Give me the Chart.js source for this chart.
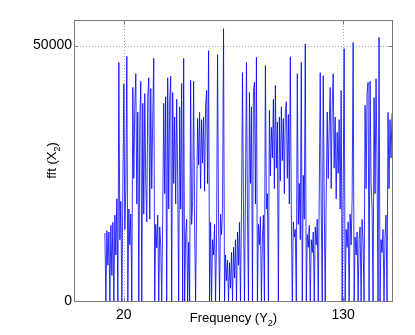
<!DOCTYPE html>
<html>
<head>
<meta charset="utf-8">
<script src="https://cdn.jsdelivr.net/npm/chart.js@4.4.0/dist/chart.umd.min.js"></script>
<style>
  html, body { margin: 0; padding: 0; background: #fff; }
  #wrap { width: 415px; height: 335px; }
</style>
</head>
<body>
<div id="wrap"><canvas id="fftChart" width="415" height="335"></canvas></div>
<script>
// frequency axis: first sample and spacing
const freqStart = 10.5;
const freqStep = 0.5;

// fft magnitude, one sample per pixel column
const fftValues = [
  13300, 0, 13800, 7000, 13500, 0, 14800, 5000, 15400, 0, 16800, 9000, 20000,
  0, 46700, 12000, 19500, 0, 21500, 42500, 14000, 22000, 47900,
  0, 18000, 11000, 17000, 0,
  41800, 24000, 38000, 44500, 19000, 37000, 0, 35000, 43000, 0,
  38700, 17000, 40600, 23000, 15500, 40000, 43700, 16000, 41600, 22000, 36000, 47500,
  0, 15000, 10400, 16800, 0, 14500, 11000, 0, 17000,
  38700, 21000, 40000, 0, 43700, 18000, 39000, 44000, 0, 40800, 23000, 36000, 19000,
  39500, 24000, 0, 38000, 18000, 42600, 0, 47500,
  0, 13000, 16000, 0, 11500, 0, 43200, 15000, 19500, 43000, 14500, 0, 18000,
  35700, 26600, 36900, 22000, 35500, 27000, 36000, 21500, 38000, 41200, 23000, 49000,
  0, 15400, 0, 12000, 9000, 15000, 0, 12500, 48200, 16000, 0, 17000, 13000, 18000, 53300,
  0, 9000, 4000, 8000, 0, 7500, 2500, 9500, 0, 10500, 4500, 12000, 0, 13500, 7000, 15400,
  0, 17500, 44700, 19000, 0, 21000, 46700, 17000, 0,
  40800, 23000, 38000, 0, 41000, 42800, 19000, 47700,
  0, 15000, 11000, 16500, 0, 12500, 16800, 0, 46100, 18000, 21000, 0,
  37300, 24500, 34000, 28000, 39500, 22000, 42200, 26000, 35000, 0,
  36000, 23500, 38000, 27500, 35700, 21000, 37000, 39000, 24000, 36500, 19000, 47800,
  17000, 0, 15500, 12500, 14000, 0, 44500, 15000, 23000, 12000, 46700, 0, 24600, 16000, 50300,
  0, 13000, 10500, 14800, 0, 12000, 9500, 13500, 0, 14500, 11000, 16000, 0, 20000,
  44700, 18000, 0, 44100, 19500, 0, 21000,
  37000, 24000, 34000, 41800, 22000, 38000, 44500, 26000, 36000, 20000, 33000, 25000,
  35500, 18000, 41200, 0, 21500, 49400,
  0, 14000, 10500, 15500, 0, 17000, 11000, 20000, 50600,
  0, 12500, 9000, 13500, 0, 12000, 14500, 0, 16000, 11500, 0,
  38300, 22000, 40800, 42800, 0, 43000, 23000, 18000, 0, 39800, 21000, 43500, 26000, 0, 51600,
  0, 12000, 9500, 14000, 0, 12500, 16800, 0,
  36900, 22000, 35500, 28000, 36700
];

const xTicks = [20, 130];
const yTicks = [0, 50000];
const xRange = [-5, 155];
const yRange = [0, 55000];
const xLabel = ['Frequency (Y', '2', ')'];
const yLabel = ['fft (X', '2', ')'];

const fontFamily = "'Liberation Sans', Arial, Helvetica, sans-serif";
const frameColor = '#7a7a7a';

const points = fftValues.map((v, i) => ({ x: freqStart + i * freqStep, y: v }));

// label with a subscript part, centred on (cx, baseline)
function drawSubLabel(ctx, parts, cx, baseline) {
  const [head, sub, tail] = parts;
  const big = '13px ' + fontFamily;
  const small = '9px ' + fontFamily;
  ctx.font = big;
  const w1 = ctx.measureText(head).width;
  const w3 = ctx.measureText(tail).width;
  ctx.font = small;
  const w2 = ctx.measureText(sub).width;
  let x = cx - (w1 + w2 + w3) / 2;
  ctx.fillStyle = '#000';
  ctx.textAlign = 'left';
  ctx.textBaseline = 'alphabetic';
  ctx.font = big;
  ctx.fillText(head, x, baseline);
  x += w1;
  ctx.font = small;
  ctx.fillText(sub, x, baseline + 4);
  x += w2;
  ctx.font = big;
  ctx.fillText(tail, x, baseline);
}

// dotted grid under the data, box + ticks + axis titles on top
const matlabFrame = {
  id: 'matlabFrame',
  beforeDatasetsDraw(chart) {
    const { ctx, chartArea: a, scales } = chart;
    ctx.save();
    ctx.strokeStyle = '#a8a8a8';
    ctx.lineWidth = 1;
    ctx.setLineDash([1, 2]);
    xTicks.forEach(v => {
      const px = Math.round(scales.x.getPixelForValue(v)) + 0.5;
      ctx.beginPath(); ctx.moveTo(px, a.top); ctx.lineTo(px, a.bottom); ctx.stroke();
    });
    yTicks.forEach(v => {
      if (v === yRange[0]) return;
      const py = Math.round(scales.y.getPixelForValue(v)) + 0.5;
      ctx.beginPath(); ctx.moveTo(a.left, py); ctx.lineTo(a.right, py); ctx.stroke();
    });
    ctx.restore();
  },
  afterDraw(chart) {
    const { ctx, chartArea: a, scales } = chart;
    ctx.save();
    ctx.strokeStyle = frameColor;
    ctx.lineWidth = 1;
    const l = Math.round(a.left) + 0.5, r = Math.round(a.right) - 0.5;
    const t = Math.round(a.top) + 0.5, b = Math.round(a.bottom) + 0.5;
    ctx.strokeRect(l, t, r - l, b - t);
    const tick = 4;
    ctx.beginPath();
    xTicks.forEach(v => {
      const px = Math.round(scales.x.getPixelForValue(v)) + 0.5;
      ctx.moveTo(px, b); ctx.lineTo(px, b - tick);
      ctx.moveTo(px, t); ctx.lineTo(px, t + tick);
    });
    yTicks.forEach(v => {
      const py = Math.round(scales.y.getPixelForValue(v)) + 0.5;
      ctx.moveTo(l, py); ctx.lineTo(l + tick, py);
      ctx.moveTo(r, py); ctx.lineTo(r - tick, py);
    });
    ctx.stroke();
    ctx.restore();

    ctx.save();
    drawSubLabel(ctx, xLabel, (a.left + a.right) / 2, 322);
    ctx.translate(56, (a.top + a.bottom) / 2);
    ctx.rotate(-Math.PI / 2);
    drawSubLabel(ctx, yLabel, 0, 0);
    ctx.restore();
  }
};

new Chart(document.getElementById('fftChart').getContext('2d'), {
  type: 'line',
  data: {
    datasets: [{
      data: points,
      borderColor: '#0000ff',
      borderWidth: 0.8,
      pointRadius: 0,
      tension: 0,
      fill: false
    }]
  },
  options: {
    responsive: false,
    animation: false,
    events: [],
    layout: { padding: { left: 0, top: 20, right: 22, bottom: 0 } },
    plugins: {
      legend: { display: false },
      tooltip: { enabled: false }
    },
    scales: {
      x: {
        type: 'linear',
        min: xRange[0],
        max: xRange[1],
        grid: { display: false, drawTicks: false },
        border: { display: false },
        afterBuildTicks: s => { s.ticks = xTicks.map(v => ({ value: v })); },
        afterFit: s => { s.height = 34; },
        ticks: {
          color: '#000',
          font: { family: fontFamily, size: 14 },
          padding: 6,
          maxRotation: 0,
          autoSkip: false
        }
      },
      y: {
        min: yRange[0],
        max: yRange[1],
        grid: { display: false, drawTicks: false },
        border: { display: false },
        afterBuildTicks: s => { s.ticks = yTicks.map(v => ({ value: v })); },
        afterFit: s => { s.width = 74; },
        ticks: {
          color: '#000',
          font: { family: fontFamily, size: 14 },
          padding: 2,
          autoSkip: false,
          callback: v => String(v)
        }
      }
    }
  },
  plugins: [matlabFrame]
});
</script>
</body>
</html>
